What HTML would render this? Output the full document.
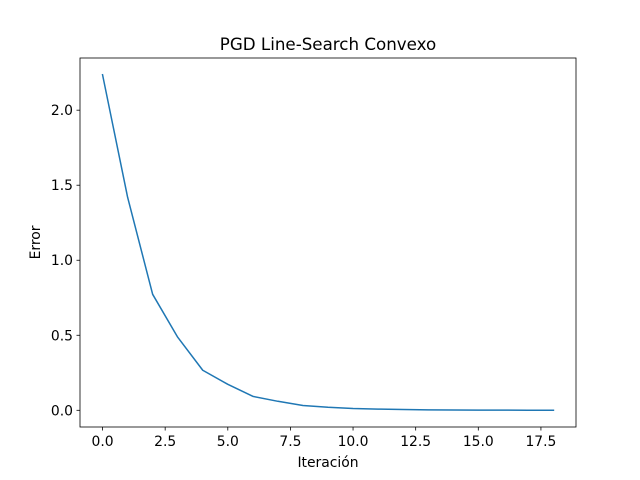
<!DOCTYPE html>
<html><head><meta charset="utf-8"><style>
body{margin:0;background:#fff;}
svg{display:block;font-family:"DejaVu Sans","Liberation Sans",sans-serif;}
</style></head><body>
<svg id="chart" width="640" height="480">
<rect width="640" height="480" fill="#fff"/>
<g id="plot"></g>
</svg>
<script>
const iterations=[0,1,2,3,4,5,6,7,8,9,10,11,12,13,14,15,16,17,18];
const errors=[2.236,1.42,0.773,0.487,0.267,0.173,0.093,0.06,0.032,0.02,0.012,0.008,0.005,0.003,0.002,0.0015,0.001,0.0007,0.0005];
const xTicks=[0,2.5,5,7.5,10,12.5,15,17.5];
const xTickLabels=["0.0","2.5","5.0","7.5","10.0","12.5","15.0","17.5"];
const yTicks=[0,0.5,1,1.5,2];
const yTickLabels=["0.0","0.5","1.0","1.5","2.0"];

const L=80,R=576,T=58,B=427;
const xmin=Math.min(...iterations),xmax=Math.max(...iterations);
const ymin=Math.min(...errors),ymax=Math.max(...errors);
const xp=(xmax-xmin)*0.05,yp=(ymax-ymin)*0.05;
const X=v=>L+(v-(xmin-xp))/((xmax+xp)-(xmin-xp))*(R-L);
const Y=v=>B-(v-(ymin-yp))/((ymax+yp)-(ymin-yp))*(B-T);
const NS="http://www.w3.org/2000/svg";
const g=document.getElementById('plot');
function mk(tag,attrs,parent){const e=document.createElementNS(NS,tag);for(const k in attrs)e.setAttribute(k,attrs[k]);(parent||g).appendChild(e);return e;}

let pts=iterations.map((v,i)=>X(v).toFixed(2)+","+Y(errors[i]).toFixed(2)).join(" ");
const line=mk('polyline',{points:pts,fill:'none',stroke:'#1f77b4','stroke-width':1.5,'stroke-linejoin':'round','stroke-linecap':'square'});



const frame=mk('rect',{x:L,y:T,width:R-L,height:B-T,fill:'none',stroke:'#000','stroke-width':0.8});



xTicks.forEach((t,i)=>{
  const x=X(t);
  const tk=mk('line',{x1:x,x2:x,y1:B,y2:B+3.5,stroke:'#000','stroke-width':0.8});
  
  
  const tx=mk('text',{x:x,y:B+19,'text-anchor':'middle','font-size':13.9,fill:'#000'});
  tx.textContent=xTickLabels[i];
  
  
});
yTicks.forEach((t,i)=>{
  const y=Y(t);
  const tk=mk('line',{x1:L-3.5,x2:L,y1:y,y2:y,stroke:'#000','stroke-width':0.8});
  
  
  const tx=mk('text',{x:L-7,y:y+5,'text-anchor':'end','font-size':13.9,fill:'#000'});
  tx.textContent=yTickLabels[i];
  
  
});
const title=mk('text',{x:(L+R)/2,y:T-8,'text-anchor':'middle','font-size':16.7,fill:'#000'});
title.textContent='PGD Line-Search Convexo';


const xl=mk('text',{x:(L+R)/2,y:467,'text-anchor':'middle','font-size':13.9,fill:'#000'});
xl.textContent='Iteración';


const yl=mk('text',{x:0,y:0,'text-anchor':'middle','font-size':13.9,fill:'#000',transform:`translate(40,${(T+B)/2}) rotate(-90)`});
yl.textContent='Error';


</script>
</body></html>
